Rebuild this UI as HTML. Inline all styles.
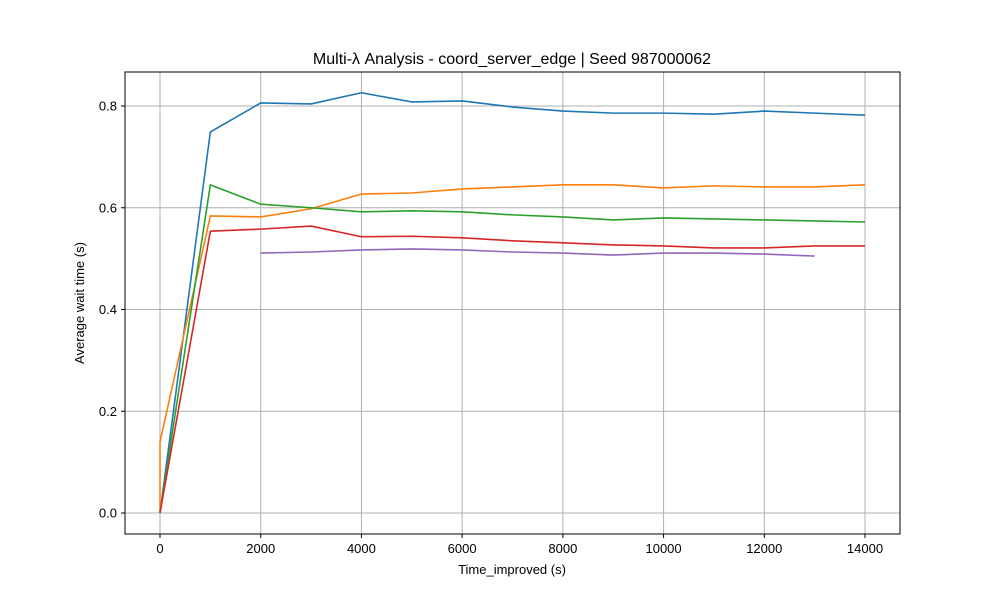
<!DOCTYPE html>
<html><head><meta charset="utf-8"><style>
body{margin:0;background:#fff}
svg text{font-family:"Liberation Sans","DejaVu Sans",sans-serif;fill:#000}
</style></head><body>
<svg id="chart" width="1000" height="600" xmlns="http://www.w3.org/2000/svg">
<rect width="1000" height="600" fill="#fff"/>
<g id="grid"></g>
<g id="series"></g>
<rect x="125" y="72" width="775" height="462" fill="none" stroke="#000" stroke-width="1"/>
<g id="ticks"></g>
<text x="512" y="64" font-size="16" text-anchor="middle">Multi-λ Analysis - coord_server_edge | Seed 987000062</text>
<text x="512" y="574" font-size="13" text-anchor="middle">Time_improved (s)</text>
<text x="84" y="303" font-size="13" text-anchor="middle" transform="rotate(-90 84 303)">Average wait time (s)</text>
</svg>
<script>
const xTicks=[0,2000,4000,6000,8000,10000,12000,14000];
const yTicks=[0.0,0.2,0.4,0.6,0.8];
const xFull=[0,1000,2000,3000,4000,5000,6000,7000,8000,9000,10000,11000,12000,13000,14000];
const blueY=[0,0.749,0.806,0.804,0.826,0.808,0.810,0.798,0.790,0.786,0.786,0.784,0.790,0.786,0.782];
const orangeX=[0,0,1000,2000,3000,4000,5000,6000,7000,8000,9000,10000,11000,12000,13000,14000];
const orangeY=[0,0.14,0.584,0.582,0.598,0.627,0.629,0.637,0.641,0.645,0.645,0.639,0.643,0.641,0.641,0.645];
const greenY=[0,0.645,0.607,0.600,0.592,0.594,0.592,0.586,0.582,0.576,0.580,0.578,0.576,0.574,0.572];
const redY=[0,0.554,0.558,0.564,0.543,0.544,0.541,0.535,0.531,0.527,0.525,0.521,0.521,0.525,0.525];
const purpleX=[2000,3000,4000,5000,6000,7000,8000,9000,10000,11000,12000,13000];
const purpleY=[0.511,0.513,0.517,0.519,0.517,0.513,0.511,0.507,0.511,0.511,0.509,0.505];
const NS="http://www.w3.org/2000/svg";
const X=v=>160+v*705/14000;
const Y=v=>513-v*508.75;
function mk(tag,attrs,parent){const e=document.createElementNS(NS,tag);for(const k in attrs)e.setAttribute(k,attrs[k]);parent.appendChild(e);return e;}
const grid=document.getElementById('grid'),ticks=document.getElementById('ticks'),series=document.getElementById('series');
xTicks.forEach(t=>{
 const g=mk('line',{x1:X(t),x2:X(t),y1:72,y2:534,stroke:'#b0b0b0','stroke-width':1},grid);
 
 
 const tk=mk('line',{x1:X(t),x2:X(t),y1:534,y2:538,stroke:'#000'},ticks);
 
 
 const tx=mk('text',{x:X(t),y:553,'font-size':13,'text-anchor':'middle'},ticks);tx.textContent=t;
 
 
});
yTicks.forEach(t=>{
 const g=mk('line',{x1:125,x2:900,y1:Y(t),y2:Y(t),stroke:'#b0b0b0','stroke-width':1},grid);
 
 
 const tk=mk('line',{x1:121,x2:125,y1:Y(t),y2:Y(t),stroke:'#000'},ticks);
 
 
 const tx=mk('text',{x:117,y:Y(t)+4.5,'font-size':13,'text-anchor':'end'},ticks);tx.textContent=t.toFixed(1);
 
 
});
function line(xs,ys,color,name){
 const p=mk('polyline',{points:xs.map((x,i)=>X(x)+','+Y(ys[i])).join(' '),fill:'none',stroke:color,'stroke-width':1.6,'stroke-linejoin':'round'},series);
 
 
}
line(xFull,blueY,'#1f77b4','series-blue');
line(orangeX,orangeY,'#ff7f0e','series-orange');
line(xFull,greenY,'#2ca02c','series-green');
line(xFull,redY,'#d62728','series-red');
line(purpleX,purpleY,'#9467bd','series-purple');
</script>
</body></html>
